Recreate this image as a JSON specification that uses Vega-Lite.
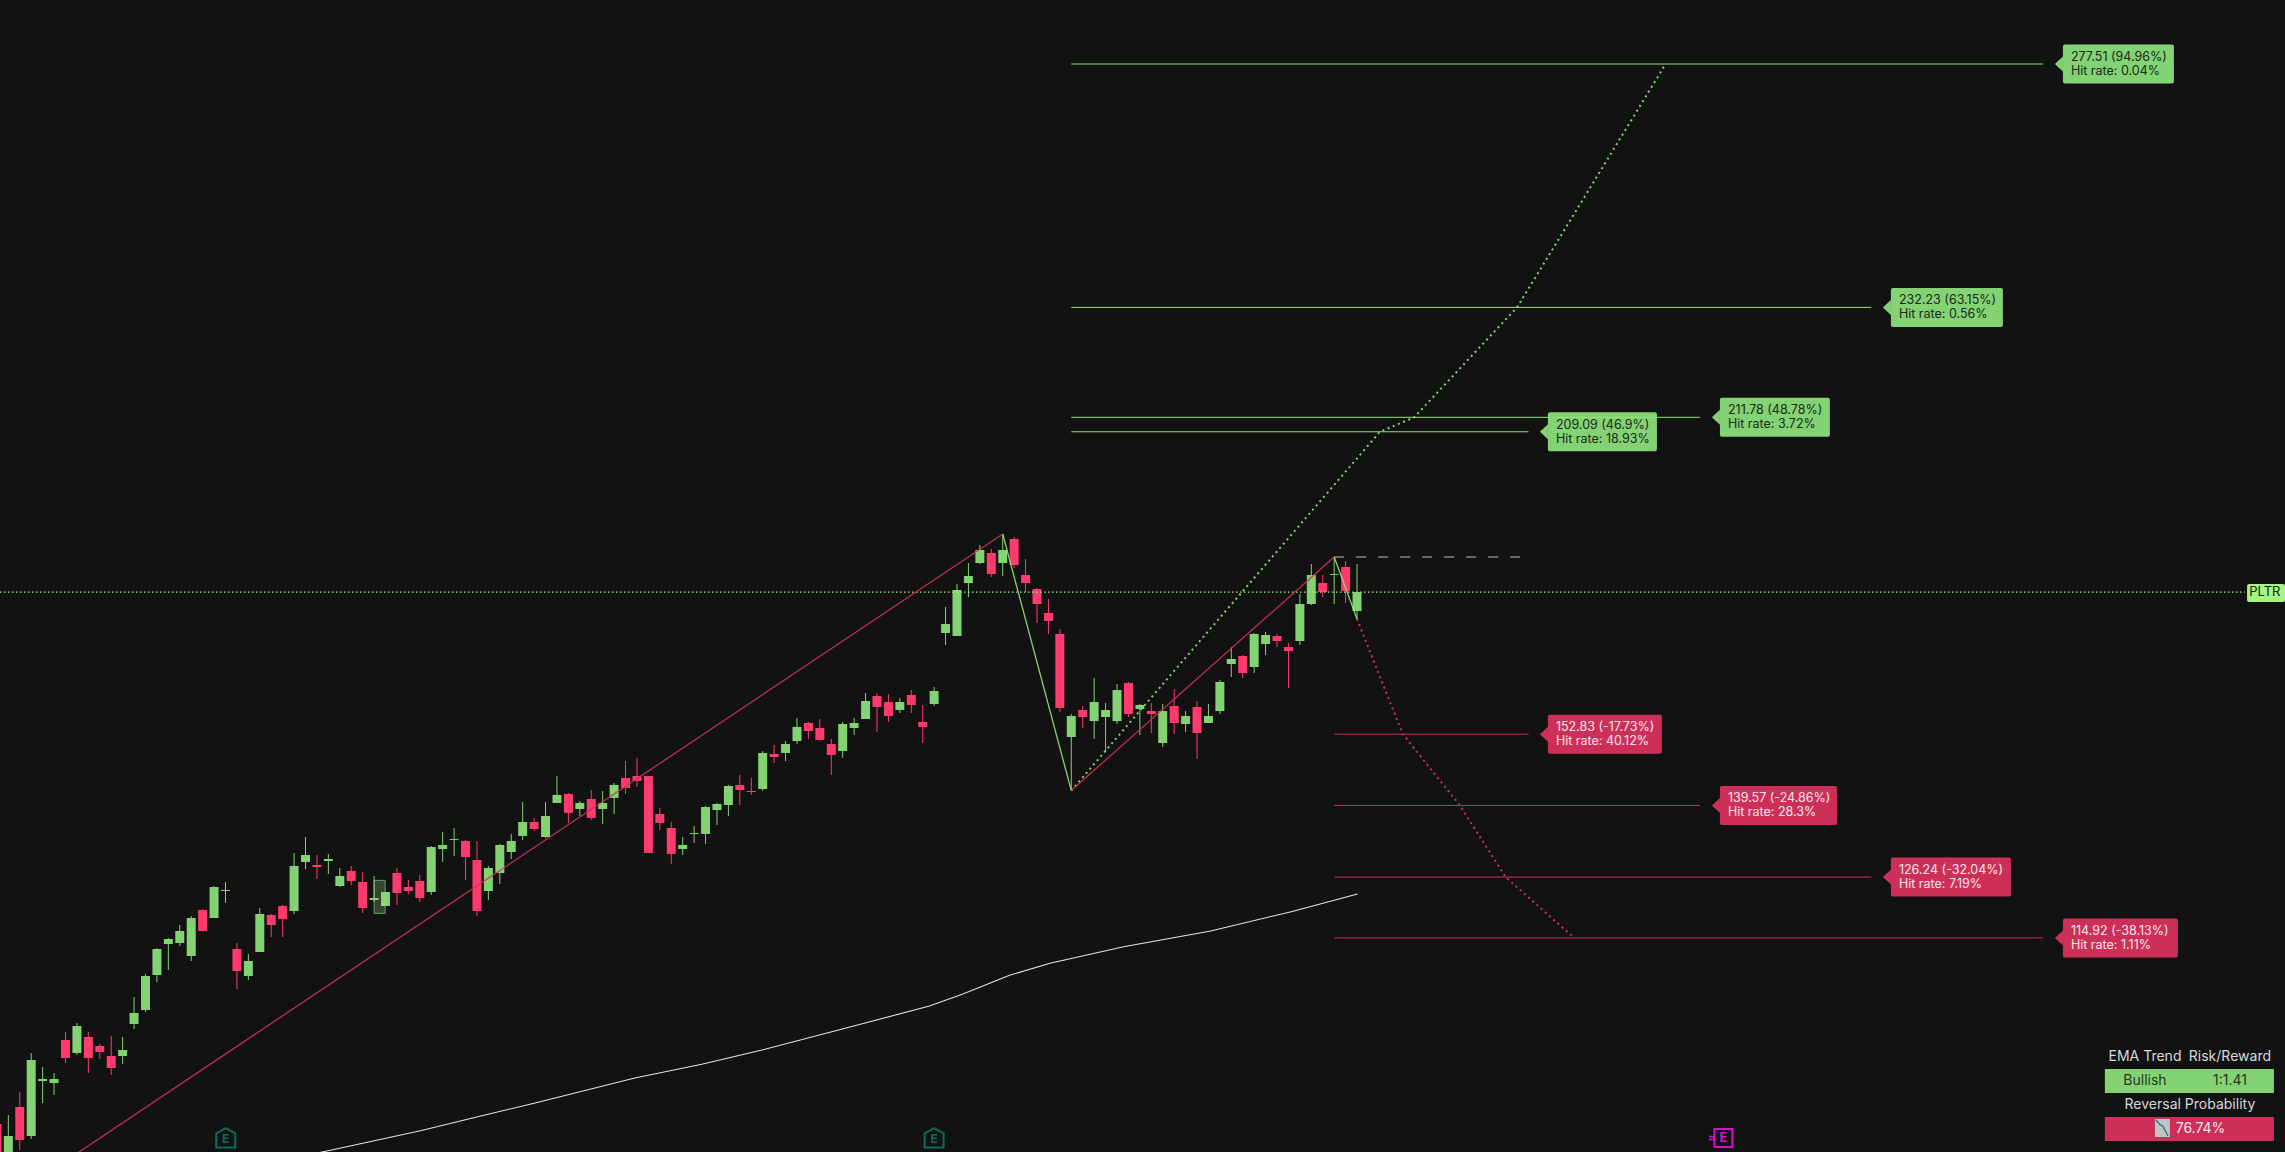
{
  "$schema": "https://vega.github.io/schema/vega-lite/v6.json",
  "width": 2285,
  "height": 1152,
  "padding": 0,
  "autosize": {"type": "none"},
  "background": "#121212",
  "config": {"view": {"stroke": null}, "axis": {"disable": true}, "text": {"font": "Inter"}},
  "datasets": {
    "candles": [
      {"n":0,"dir":"down","o":80.30,"c":73.60,"h":80.30,"l":72.98},
      {"n":1,"dir":"up","o":74.22,"c":78.07,"h":81.97,"l":73.29},
      {"n":2,"dir":"down","o":83.46,"c":77.32,"h":86.25,"l":75.46},
      {"n":3,"dir":"up","o":78.07,"c":92.21,"h":93.51,"l":77.51},
      {"n":4,"dir":"up","o":88.30,"c":88.67,"h":90.90,"l":84.21},
      {"n":5,"dir":"up","o":87.93,"c":88.67,"h":89.79,"l":85.70},
      {"n":6,"dir":"down","o":95.93,"c":92.58,"h":97.42,"l":91.65},
      {"n":7,"dir":"up","o":93.51,"c":98.53,"h":99.09,"l":93.14},
      {"n":8,"dir":"down","o":96.49,"c":92.58,"h":97.42,"l":89.79},
      {"n":9,"dir":"down","o":94.81,"c":93.70,"h":95.18,"l":92.39},
      {"n":10,"dir":"down","o":92.95,"c":90.72,"h":96.67,"l":89.42},
      {"n":11,"dir":"up","o":92.95,"c":94.07,"h":96.49,"l":91.46},
      {"n":12,"dir":"up","o":98.91,"c":100.95,"h":103.93,"l":97.98},
      {"n":13,"dir":"up","o":101.51,"c":107.84,"h":108.21,"l":101.14},
      {"n":14,"dir":"up","o":108.02,"c":112.86,"h":113.04,"l":106.72},
      {"n":15,"dir":"up","o":113.79,"c":114.72,"h":114.91,"l":108.95},
      {"n":16,"dir":"up","o":113.98,"c":116.21,"h":117.32,"l":113.42},
      {"n":17,"dir":"up","o":111.56,"c":118.63,"h":119.00,"l":110.63},
      {"n":18,"dir":"down","o":120.11,"c":116.21,"h":120.30,"l":116.21},
      {"n":19,"dir":"up","o":118.63,"c":124.39,"h":124.58,"l":118.63},
      {"n":20,"dir":"up","o":123.65,"c":123.84,"h":125.32,"l":121.42},
      {"n":21,"dir":"down","o":112.86,"c":108.77,"h":113.98,"l":105.42},
      {"n":22,"dir":"up","o":107.84,"c":110.63,"h":111.93,"l":107.09},
      {"n":23,"dir":"up","o":112.30,"c":119.37,"h":120.49,"l":112.30},
      {"n":24,"dir":"down","o":119.18,"c":117.32,"h":119.37,"l":115.09},
      {"n":25,"dir":"down","o":120.86,"c":118.44,"h":121.05,"l":115.09},
      {"n":26,"dir":"up","o":119.93,"c":128.30,"h":130.72,"l":119.37},
      {"n":27,"dir":"up","o":129.05,"c":130.35,"h":133.70,"l":127.74},
      {"n":28,"dir":"down","o":128.49,"c":128.11,"h":130.35,"l":125.88},
      {"n":29,"dir":"up","o":129.23,"c":129.60,"h":130.53,"l":126.81},
      {"n":30,"dir":"up","o":124.58,"c":126.44,"h":127.93,"l":124.39},
      {"n":31,"dir":"down","o":127.37,"c":125.51,"h":128.30,"l":124.77},
      {"n":32,"dir":"down","o":125.32,"c":120.49,"h":127.18,"l":119.56},
      {"n":33,"dir":"up","o":121.98,"c":122.35,"h":126.44,"l":121.60},
      {"n":34,"dir":"up","o":120.86,"c":123.46,"h":123.46,"l":120.86},
      {"n":35,"dir":"down","o":127.00,"c":123.28,"h":127.93,"l":121.05},
      {"n":36,"dir":"down","o":124.39,"c":123.65,"h":125.70,"l":123.09},
      {"n":37,"dir":"down","o":125.51,"c":122.35,"h":126.63,"l":121.60},
      {"n":38,"dir":"up","o":123.46,"c":131.84,"h":132.02,"l":122.91},
      {"n":39,"dir":"up","o":131.46,"c":132.21,"h":134.63,"l":129.05},
      {"n":40,"dir":"up","o":133.14,"c":133.32,"h":135.37,"l":130.16},
      {"n":41,"dir":"down","o":132.95,"c":129.98,"h":133.14,"l":125.70},
      {"n":42,"dir":"down","o":129.42,"c":119.93,"h":132.95,"l":119.00},
      {"n":43,"dir":"up","o":123.65,"c":127.93,"h":128.30,"l":121.98},
      {"n":44,"dir":"up","o":127.00,"c":132.21,"h":132.40,"l":124.96},
      {"n":45,"dir":"up","o":130.91,"c":132.96,"h":134.26,"l":129.61},
      {"n":46,"dir":"up","o":133.89,"c":136.49,"h":140.21,"l":133.14},
      {"n":47,"dir":"down","o":136.49,"c":135.19,"h":137.24,"l":134.82},
      {"n":48,"dir":"up","o":133.70,"c":137.61,"h":140.21,"l":133.51},
      {"n":49,"dir":"up","o":140.03,"c":141.51,"h":145.05,"l":140.03},
      {"n":50,"dir":"down","o":141.70,"c":138.17,"h":141.89,"l":136.31},
      {"n":51,"dir":"up","o":138.91,"c":140.03,"h":140.40,"l":137.61},
      {"n":52,"dir":"down","o":140.77,"c":137.24,"h":142.44,"l":136.86},
      {"n":53,"dir":"up","o":138.91,"c":140.03,"h":142.26,"l":136.12},
      {"n":54,"dir":"up","o":140.96,"c":143.38,"h":143.75,"l":137.98},
      {"n":55,"dir":"down","o":144.68,"c":142.82,"h":147.84,"l":141.70},
      {"n":56,"dir":"down","o":145.05,"c":144.12,"h":148.40,"l":143.00},
      {"n":57,"dir":"down","o":145.05,"c":130.72,"h":145.05,"l":130.72},
      {"n":58,"dir":"down","o":137.98,"c":136.31,"h":139.10,"l":135.00},
      {"n":59,"dir":"down","o":135.37,"c":130.54,"h":136.49,"l":128.68},
      {"n":60,"dir":"up","o":131.47,"c":132.21,"h":133.70,"l":130.35},
      {"n":61,"dir":"up","o":134.26,"c":134.44,"h":135.75,"l":132.58},
      {"n":62,"dir":"up","o":134.26,"c":139.28,"h":139.47,"l":132.40},
      {"n":63,"dir":"up","o":138.72,"c":139.84,"h":140.03,"l":135.93},
      {"n":64,"dir":"up","o":139.65,"c":143.19,"h":143.38,"l":137.61},
      {"n":65,"dir":"down","o":143.38,"c":142.44,"h":145.24,"l":139.65},
      {"n":66,"dir":"down","o":142.26,"c":142.07,"h":144.68,"l":141.51},
      {"n":67,"dir":"up","o":142.63,"c":149.33,"h":149.70,"l":142.26},
      {"n":68,"dir":"down","o":149.14,"c":148.58,"h":150.82,"l":147.47},
      {"n":69,"dir":"up","o":149.33,"c":151.00,"h":151.56,"l":147.84},
      {"n":70,"dir":"up","o":151.56,"c":154.17,"h":155.84,"l":151.00},
      {"n":71,"dir":"down","o":154.91,"c":153.42,"h":155.10,"l":151.93},
      {"n":72,"dir":"down","o":153.98,"c":151.75,"h":155.65,"l":151.56},
      {"n":73,"dir":"down","o":151.00,"c":148.96,"h":151.93,"l":145.24},
      {"n":74,"dir":"up","o":149.70,"c":154.72,"h":155.10,"l":148.40},
      {"n":75,"dir":"up","o":153.98,"c":154.91,"h":155.84,"l":152.68},
      {"n":76,"dir":"up","o":155.65,"c":159.00,"h":160.49,"l":155.65},
      {"n":77,"dir":"down","o":159.93,"c":157.89,"h":160.49,"l":153.24},
      {"n":78,"dir":"down","o":158.82,"c":156.21,"h":160.31,"l":155.10},
      {"n":79,"dir":"up","o":157.33,"c":158.82,"h":159.56,"l":156.77},
      {"n":80,"dir":"down","o":160.12,"c":158.26,"h":161.05,"l":156.77},
      {"n":81,"dir":"down","o":155.10,"c":154.17,"h":158.26,"l":151.19},
      {"n":82,"dir":"up","o":158.44,"c":160.86,"h":161.61,"l":158.07},
      {"n":83,"dir":"up","o":171.65,"c":173.32,"h":176.48,"l":169.41},
      {"n":84,"dir":"up","o":171.09,"c":179.65,"h":180.76,"l":171.09},
      {"n":85,"dir":"up","o":180.95,"c":182.25,"h":184.67,"l":178.34},
      {"n":86,"dir":"up","o":184.67,"c":187.09,"h":188.02,"l":184.48},
      {"n":87,"dir":"down","o":186.53,"c":182.62,"h":187.27,"l":182.07},
      {"n":88,"dir":"up","o":184.67,"c":187.09,"h":190.07,"l":182.25},
      {"n":89,"dir":"down","o":189.14,"c":184.30,"h":189.51,"l":183.74},
      {"n":90,"dir":"down","o":182.44,"c":180.95,"h":185.41,"l":179.27},
      {"n":91,"dir":"down","o":179.83,"c":177.04,"h":180.02,"l":173.51},
      {"n":92,"dir":"down","o":175.37,"c":173.88,"h":177.97,"l":171.46},
      {"n":93,"dir":"down","o":171.46,"c":157.69,"h":172.39,"l":156.95},
      {"n":94,"dir":"up","o":152.30,"c":156.20,"h":156.58,"l":142.44},
      {"n":95,"dir":"down","o":157.32,"c":156.02,"h":158.07,"l":153.97},
      {"n":96,"dir":"up","o":155.27,"c":158.81,"h":163.27,"l":151.93},
      {"n":97,"dir":"up","o":156.02,"c":157.32,"h":158.62,"l":149.51},
      {"n":98,"dir":"up","o":155.27,"c":161.04,"h":162.16,"l":154.72},
      {"n":99,"dir":"down","o":162.34,"c":156.58,"h":162.53,"l":156.02},
      {"n":100,"dir":"up","o":157.51,"c":158.25,"h":158.44,"l":152.67},
      {"n":101,"dir":"down","o":157.13,"c":156.58,"h":158.62,"l":153.04},
      {"n":102,"dir":"up","o":151.18,"c":157.13,"h":158.44,"l":150.44},
      {"n":103,"dir":"down","o":158.07,"c":154.90,"h":161.23,"l":152.86},
      {"n":104,"dir":"up","o":154.72,"c":156.20,"h":157.13,"l":153.23},
      {"n":105,"dir":"down","o":157.88,"c":153.04,"h":159.00,"l":148.20},
      {"n":106,"dir":"up","o":154.90,"c":156.20,"h":158.44,"l":154.90},
      {"n":107,"dir":"up","o":157.13,"c":162.53,"h":162.90,"l":156.58},
      {"n":108,"dir":"up","o":165.88,"c":166.81,"h":169.04,"l":163.46},
      {"n":109,"dir":"down","o":167.37,"c":164.20,"h":167.55,"l":163.27},
      {"n":110,"dir":"up","o":165.32,"c":171.46,"h":171.65,"l":164.20},
      {"n":111,"dir":"up","o":169.60,"c":171.28,"h":171.83,"l":167.55},
      {"n":112,"dir":"down","o":171.09,"c":170.16,"h":171.46,"l":169.04},
      {"n":113,"dir":"down","o":169.04,"c":168.30,"h":169.79,"l":161.41},
      {"n":114,"dir":"up","o":170.16,"c":177.04,"h":178.90,"l":169.41},
      {"n":115,"dir":"up","o":177.04,"c":182.44,"h":184.48,"l":176.86},
      {"n":116,"dir":"down","o":180.95,"c":179.27,"h":182.44,"l":178.34},
      {"n":117,"dir":"up","o":182.44,"c":182.62,"h":185.79,"l":177.04},
      {"n":118,"dir":"down","o":183.93,"c":179.46,"h":185.04,"l":177.23},
      {"n":119,"dir":"up","o":175.74,"c":179.27,"h":184.48,"l":174.25}
    ],
    "ema": [
      {"n":27.5,"p":74.66},{"n":28.97,"p":75.33},{"n":37.06,"p":79.05},{"n":42.33,"p":81.79},
      {"n":47,"p":84.15},{"n":55.81,"p":88.86},{"n":61.67,"p":91.40},{"n":66.94,"p":94.06},
      {"n":73.97,"p":97.97},{"n":81.59,"p":102.25},{"n":84.52,"p":104.49},{"n":88.6,"p":107.97},
      {"n":92.14,"p":110.20},{"n":98.58,"p":113.29},{"n":106.2,"p":116.21},{"n":113.24,"p":119.80},
      {"n":119.04,"p":123.09}
    ],
    "zigzag": [
      {"leg":"a","tone":"down","n":6.36,"p":73.91},{"leg":"a","tone":"down","n":88,"p":190.07},
      {"leg":"b","tone":"up","n":88,"p":190.07},{"leg":"b","tone":"up","n":94,"p":142.34},
      {"leg":"c","tone":"down","n":94,"p":142.34},{"leg":"c","tone":"down","n":117,"p":185.79},
      {"leg":"d","tone":"up","n":117,"p":185.79},{"leg":"d","tone":"up","n":119,"p":174.25}
    ],
    "projection": [
      {"tone":"up","n":94,"p":142.34},{"tone":"up","n":121,"p":209.09},{"tone":"up","n":124,"p":211.78},
      {"tone":"up","n":133,"p":232.23},{"tone":"up","n":146,"p":277.51},
      {"tone":"down","n":119,"p":174.25},{"tone":"down","n":123,"p":152.83},{"tone":"down","n":128,"p":139.57},
      {"tone":"down","n":132,"p":126.24},{"tone":"down","n":138,"p":114.92}
    ],
    "targets": [
      {"tone":"up","from":94,"to":179,"start":180.76,"finish":190.47,"p":277.51,"top":281.14,"bottom":273.88,"value":"277.51 (94.96%)","hit":"Hit rate: 0.04%"},
      {"tone":"up","from":94,"to":164,"start":165.71,"finish":175.51,"p":232.23,"top":235.86,"bottom":228.6,"value":"232.23 (63.15%)","hit":"Hit rate: 0.56%"},
      {"tone":"up","from":94,"to":149,"start":150.75,"finish":160.37,"p":211.78,"top":215.41,"bottom":208.15,"value":"211.78 (48.78%)","hit":"Hit rate: 3.72%"},
      {"tone":"up","from":94,"to":134,"start":135.7,"finish":145.24,"p":209.09,"top":212.72,"bottom":205.46,"value":"209.09 (46.9%)","hit":"Hit rate: 18.93%"},
      {"tone":"down","from":117,"to":134,"start":135.7,"finish":145.67,"p":152.83,"top":156.46,"bottom":149.2,"value":"152.83 (-17.73%)","hit":"Hit rate: 40.12%"},
      {"tone":"down","from":117,"to":149,"start":150.75,"finish":160.99,"p":139.57,"top":143.2,"bottom":135.94,"value":"139.57 (-24.86%)","hit":"Hit rate: 28.3%"},
      {"tone":"down","from":117,"to":164,"start":165.71,"finish":176.21,"p":126.24,"top":129.87,"bottom":122.61,"value":"126.24 (-32.04%)","hit":"Hit rate: 7.19%"},
      {"tone":"down","from":117,"to":179,"start":180.76,"finish":190.82,"p":114.92,"top":118.55,"bottom":111.29,"value":"114.92 (-38.13%)","hit":"Hit rate: 1.11%"}
    ],
    "panelBars": [
      {"tone":"up","from":184.43,"to":199.22,"top":90.53,"bottom":86.07},
      {"tone":"down","from":184.43,"to":199.22,"top":81.60,"bottom":77.13}
    ],
    "panelText": [
      {"ink":"head","n":187.94,"p":92.77,"label":"EMA Trend"},
      {"ink":"head","n":195.37,"p":92.77,"label":"Risk/Reward"},
      {"ink":"dark","n":187.94,"p":88.30,"label":"Bullish"},
      {"ink":"dark","n":195.37,"p":88.30,"label":"1:1.41"},
      {"ink":"head","n":191.87,"p":83.84,"label":"Reversal Probability"},
      {"ink":"pale","n":192.8,"p":79.37,"label":"76.74%"}
    ],
    "earnings": [
      {"kind":"past","n":20.02,"p":77.69},
      {"kind":"past","n":82,"p":77.69},
      {"kind":"next","n":151.06,"p":77.69}
    ]
  },
  "encoding": {
    "x": {"field": "n", "type": "quantitative", "axis": null, "scale": {"domain": [0.27, 200.19], "nice": false, "zero": false, "padding": 0}},
    "y": {"field": "p", "type": "quantitative", "axis": null, "scale": {"domain": [75.09, 289.42], "nice": false, "zero": false, "padding": 0}}
  },
  "resolve": {"scale": {"color": "independent"}},
  "layer": [
    {
      "data": {"name": "candles"},
      "mark": {"type": "rule", "strokeWidth": 1, "clip": true},
      "encoding": {
        "y": {"field": "h", "type": "quantitative"},
        "y2": {"field": "l"},
        "color": {"field": "dir", "type": "nominal", "legend": null, "scale": {"domain": ["up", "down"], "range": ["#83d274", "#ff3a6d"]}}
      }
    },
    {
      "data": {"name": "candles"},
      "mark": {"type": "bar", "size": 9, "clip": true},
      "encoding": {
        "y": {"field": "o", "type": "quantitative"},
        "y2": {"field": "c"},
        "color": {"field": "dir", "type": "nominal", "legend": null, "scale": {"domain": ["up", "down"], "range": ["#83d274", "#ff3a6d"]}}
      }
    },
    {
      "data": {"values": [{"from": 33, "to": 33.97, "top": 125.63, "bottom": 119.49}]},
      "mark": {"type": "rect", "color": "#9be58a", "fillOpacity": 0.25, "stroke": "#9be58a", "strokeWidth": 1, "strokeOpacity": 0.6},
      "encoding": {
        "x": {"field": "from", "type": "quantitative"},
        "x2": {"field": "to"},
        "y": {"field": "top", "type": "quantitative"},
        "y2": {"field": "bottom"}
      }
    },
    {
      "data": {"name": "ema"},
      "mark": {"type": "line", "color": "#e4e4e4", "strokeWidth": 1.1, "clip": true},
      "encoding": {}
    },
    {
      "data": {"values": [{"n": 0.27, "to": 196.67, "p": 179.27}]},
      "mark": {"type": "rule", "color": "#a6f07f", "strokeWidth": 1.2, "strokeDash": [1.5, 2.5]},
      "encoding": {"x2": {"field": "to"}}
    },
    {
      "data": {"values": [{"n": 117, "to": 133.3, "p": 185.79}]},
      "mark": {"type": "rule", "color": "#858585", "strokeWidth": 1.5, "strokeDash": [10, 12]},
      "encoding": {"x2": {"field": "to"}}
    },
    {
      "data": {"name": "projection"},
      "mark": {"type": "line", "strokeWidth": 2, "strokeDash": [2, 3.6]},
      "encoding": {
        "detail": {"field": "tone"},
        "color": {"field": "tone", "type": "nominal", "legend": null, "scale": {"domain": ["up", "down"], "range": ["#83d274", "#cc3059"]}}
      }
    },
    {
      "data": {"name": "zigzag"},
      "mark": {"type": "line", "strokeWidth": 1.3, "clip": true, "opacity": 0.92},
      "encoding": {
        "detail": {"field": "leg"},
        "color": {"field": "tone", "type": "nominal", "legend": null, "scale": {"domain": ["up", "down"], "range": ["#92e27c", "#cc3059"]}}
      }
    },
    {
      "data": {"name": "targets"},
      "mark": {"type": "point", "filled": true, "opacity": 1, "size": 64, "xOffset": -4, "shape": "M -1 0 L 1 -1.875 L 1 1.875 Z"},
      "encoding": {
        "x": {"field": "start", "type": "quantitative"},
        "color": {"field": "tone", "type": "nominal", "legend": null, "scale": {"domain": ["up", "down"], "range": ["#83d274", "#cc3059"]}}
      }
    },
    {
      "data": {"name": "targets"},
      "mark": {"type": "rect", "cornerRadius": 2},
      "encoding": {
        "x": {"field": "start", "type": "quantitative"},
        "x2": {"field": "finish"},
        "y": {"field": "top", "type": "quantitative"},
        "y2": {"field": "bottom"},
        "color": {"field": "tone", "type": "nominal", "legend": null, "scale": {"domain": ["up", "down"], "range": ["#83d274", "#cc3059"]}}
      }
    },
    {
      "data": {"name": "targets"},
      "mark": {"type": "rule", "strokeWidth": 1},
      "encoding": {
        "x": {"field": "from", "type": "quantitative"},
        "x2": {"field": "to"},
        "color": {"field": "tone", "type": "nominal", "legend": null, "scale": {"domain": ["up", "down"], "range": ["#92e27c", "#cc3059"]}}
      }
    },
    {
      "data": {"name": "targets"},
      "mark": {"type": "text", "align": "left", "baseline": "middle", "fontSize": 12.5, "dx": 8, "dy": -7},
      "encoding": {
        "x": {"field": "start", "type": "quantitative"},
        "text": {"field": "value"},
        "color": {"field": "tone", "type": "nominal", "legend": null, "scale": {"domain": ["up", "down"], "range": ["#1b2a1b", "#f7e6ea"]}}
      }
    },
    {
      "data": {"name": "targets"},
      "mark": {"type": "text", "align": "left", "baseline": "middle", "fontSize": 12.5, "dx": 8, "dy": 7},
      "encoding": {
        "x": {"field": "start", "type": "quantitative"},
        "text": {"field": "hit"},
        "color": {"field": "tone", "type": "nominal", "legend": null, "scale": {"domain": ["up", "down"], "range": ["#1b2a1b", "#f7e6ea"]}}
      }
    },
    {
      "data": {"name": "panelBars"},
      "mark": {"type": "rect"},
      "encoding": {
        "x": {"field": "from", "type": "quantitative"},
        "x2": {"field": "to"},
        "y": {"field": "top", "type": "quantitative"},
        "y2": {"field": "bottom"},
        "color": {"field": "tone", "type": "nominal", "legend": null, "scale": {"domain": ["up", "down"], "range": ["#83d274", "#cc3059"]}}
      }
    },
    {
      "data": {"values": [{"from": 188.81, "to": 190.12, "top": 81.23, "bottom": 77.88}]},
      "mark": {"type": "rect", "color": "#c4c4c4"},
      "encoding": {
        "x": {"field": "from", "type": "quantitative"},
        "x2": {"field": "to"},
        "y": {"field": "top", "type": "quantitative"},
        "y2": {"field": "bottom"}
      }
    },
    {
      "data": {"values": [{"n": 188.9, "p": 81.04}, {"n": 189.25, "p": 80.2}, {"n": 189.5, "p": 79.9}, {"n": 189.95, "p": 78.07}]},
      "mark": {"type": "line", "color": "#1f8a8a", "strokeWidth": 1.5},
      "encoding": {}
    },
    {
      "data": {"name": "panelText"},
      "mark": {"type": "text", "align": "center", "baseline": "middle", "fontSize": 14},
      "encoding": {
        "text": {"field": "label"},
        "color": {"field": "ink", "type": "nominal", "legend": null, "scale": {"domain": ["head", "dark", "pale"], "range": ["#d9d9d9", "#1f3a1f", "#f7e6ea"]}}
      }
    },
    {
      "data": {"values": [{"from": 196.87, "to": 200.19, "top": 180.77, "bottom": 177.42}]},
      "mark": {"type": "rect", "color": "#a6f583", "cornerRadius": 2},
      "encoding": {
        "x": {"field": "from", "type": "quantitative"},
        "x2": {"field": "to"},
        "y": {"field": "top", "type": "quantitative"},
        "y2": {"field": "bottom"}
      }
    },
    {
      "data": {"values": [{"n": 198.43, "p": 179.27, "label": "PLTR"}]},
      "mark": {"type": "text", "align": "center", "baseline": "middle", "fontSize": 13, "color": "#16240f"},
      "encoding": {"text": {"field": "label"}}
    },
    {
      "data": {"name": "earnings"},
      "transform": [{"filter": "datum.kind === 'past'"}],
      "mark": {"type": "point", "filled": false, "opacity": 1, "color": "#0b6b5c", "strokeWidth": 2, "size": 361, "shape": "M -1 -0.5 L 0 -1.05 L 1 -0.5 L 1 1 L -1 1 Z"},
      "encoding": {}
    },
    {
      "data": {"name": "earnings"},
      "transform": [{"filter": "datum.kind === 'past'"}],
      "mark": {"type": "text", "align": "center", "baseline": "middle", "fontSize": 12, "fontWeight": "bold", "dy": 1, "color": "#0b6b5c", "text": "E"},
      "encoding": {}
    },
    {
      "data": {"name": "earnings"},
      "transform": [{"filter": "datum.kind === 'next'"}],
      "mark": {"type": "point", "filled": false, "opacity": 1, "color": "#d012d4", "strokeWidth": 2, "size": 324, "shape": "square"},
      "encoding": {}
    },
    {
      "data": {"name": "earnings"},
      "transform": [{"filter": "datum.kind === 'next'"}],
      "mark": {"type": "text", "align": "center", "baseline": "middle", "fontSize": 13, "fontWeight": "bold", "color": "#d012d4", "text": "E"},
      "encoding": {}
    },
    {
      "data": {"name": "earnings"},
      "transform": [{"filter": "datum.kind === 'next'"}],
      "mark": {"type": "text", "align": "right", "baseline": "middle", "fontSize": 11, "fontWeight": "bold", "dx": -8, "color": "#d012d4", "text": "≈"},
      "encoding": {}
    }
  ]
}
